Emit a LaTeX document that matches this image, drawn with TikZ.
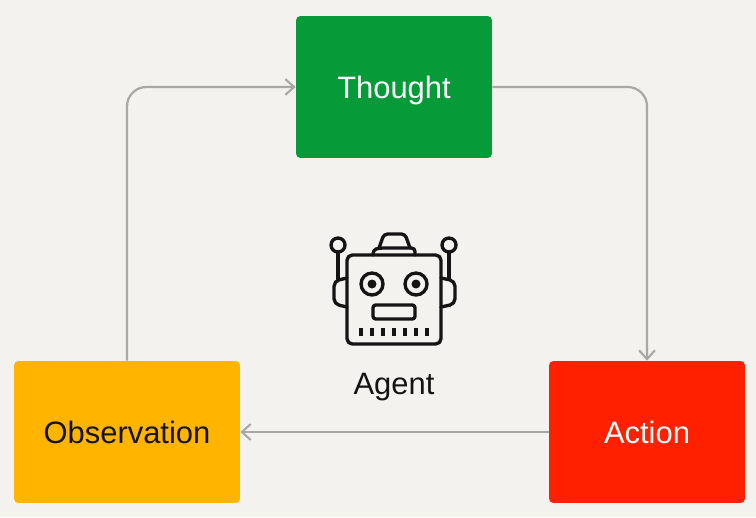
\documentclass[tikz,border=0pt]{standalone}
\usepackage{fontspec}
\setmainfont{Liberation Sans}
\usepackage{xcolor}
\usepackage{tikz}
\usetikzlibrary{arrows.meta,positioning,calc}
\definecolor{pagebg}{HTML}{F4F2EE}
\definecolor{thoughtgreen}{HTML}{069A38}
\definecolor{actionred}{HTML}{FF2000}
\definecolor{obsyellow}{HTML}{FFB400}
\definecolor{flowgray}{HTML}{A8A8A4}
\definecolor{inkblack}{HTML}{141414}

\begin{document}
\begin{tikzpicture}[
    x=0.02cm, y=-0.02cm,
    stage/.style={rectangle, rounded corners=2.5pt, minimum height=2.84cm, font=\fontsize{17.6}{20}\selectfont, text centered, inner sep=0pt, text height=13.6pt, text depth=0pt},
    thoughtbox/.style={stage, fill=thoughtgreen, text=white, minimum width=3.92cm},
    actionbox/.style={stage, fill=actionred, text=white, minimum width=3.92cm},
    obsbox/.style={stage, fill=obsyellow, text=inkblack, minimum width=4.52cm},
    flow/.style={-{Straight Barb[length=5pt,width=9pt,line width=1.2pt]}, line width=1.25pt, flowgray, rounded corners=11pt},
    bot/.style={draw=inkblack, line width=1.9pt, line join=round, line cap=round},
    botfill/.style={fill=inkblack}
]
    % Background
    \fill[pagebg] (0,0) rectangle (756,517);

    % Stages
    \node[thoughtbox] (thought) at (394,87) {Thought};
    \node[actionbox] (action) at (647,432) {Action};
    \node[obsbox] (observation) at (127,432) {Observation};
    \node[font=\fontsize{17.6}{20}\selectfont, text=inkblack, inner sep=0pt, text height=13.6pt, text depth=0pt] (agent) at (394,383) {Agent};

    % Loop
    \draw[flow] (thought.east) -| (action.north);
    \draw[flow] (action.west) -- (observation.east);
    \draw[flow] (observation.north) |- (thought.west);

    % Robot
    \draw[bot, rounded corners=3pt] (347,255) rectangle (441,344);
    \draw[bot, rounded corners=2pt] (373,255) -- (373,250) -- (379,248) -- (415,248) -- (415,255);
    \draw[bot, rounded corners=2pt] (379,248) -- (384,234) -- (405,234) -- (410,248);
    \draw[bot] (338,245) circle (7);
    \draw[bot] (449,245) circle (7);
    \draw[bot] (338,252) -- (338,279);
    \draw[bot] (449,252) -- (449,279);
    \draw[bot, rounded corners=3pt] (347,278) -- (334,281) -- (334,304) -- (347,307);
    \draw[bot, rounded corners=3pt] (441,278) -- (455,281) -- (455,304) -- (441,307);
    \foreach \cx in {372,416} {
        \draw[bot] (\cx,284) circle (11);
        \fill[botfill] (\cx,284) circle (4.5);
    }
    \draw[bot, rounded corners=1.5pt] (373,305) rectangle (415,319);
    \foreach \tx in {361,372,383,394,405,416,427}
        \draw[bot, line cap=butt] (\tx,328) -- (\tx,336);
\end{tikzpicture}
\end{document}
